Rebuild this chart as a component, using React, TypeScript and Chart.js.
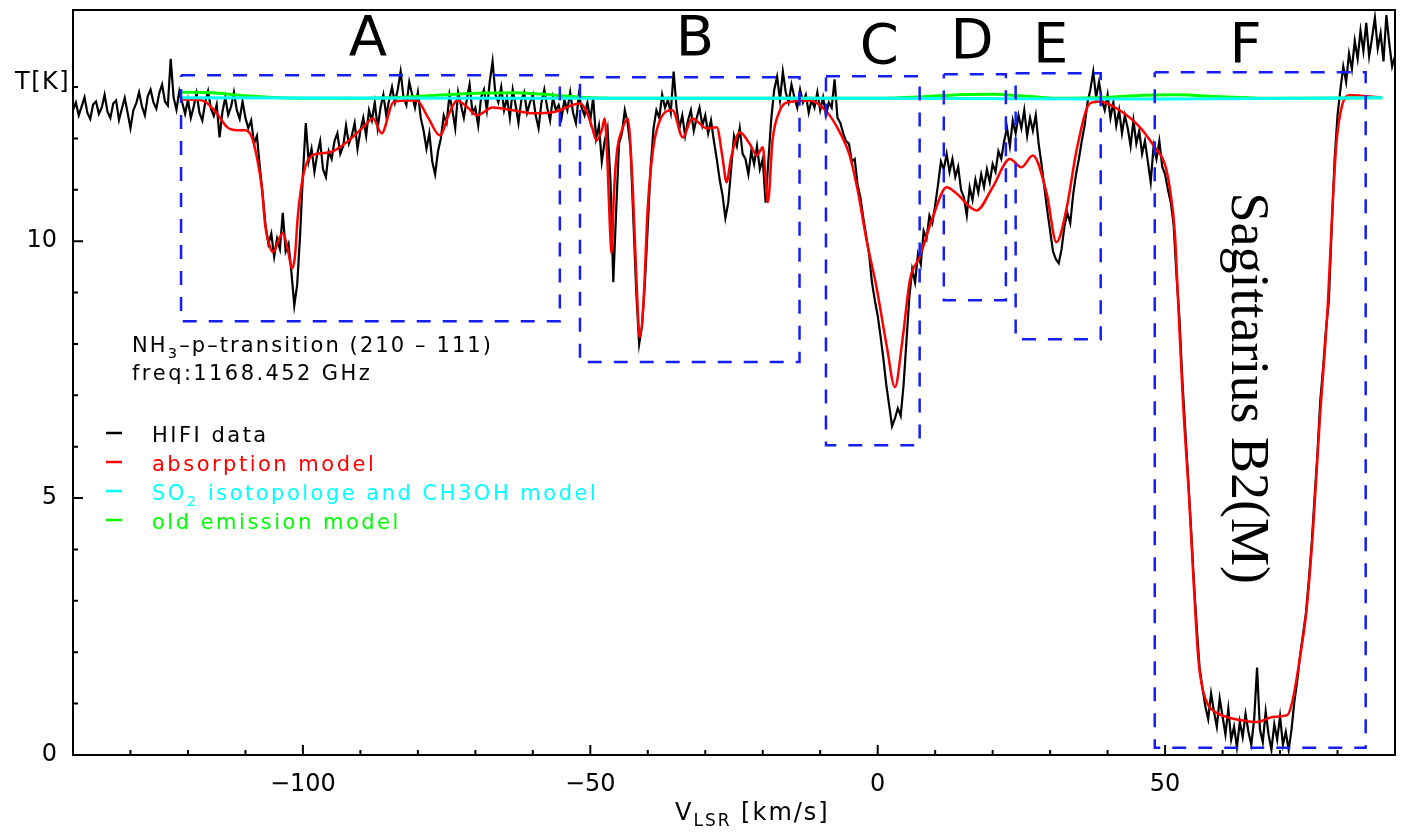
import React, { useEffect, useRef } from 'react';
import { Chart, registerables } from 'chart.js';

Chart.register(...registerables);

const SANS = '"DejaVu Sans", "Liberation Sans", sans-serif';
const SERIF = '"Liberation Serif", "DejaVu Serif", serif';

// ---------------------------------------------------------------------------
// HIFI spectrum of NH3 (para, 2_10 - 1_11) towards Sgr B2(M)
// channels start at -140 km/s, 0.5 km/s apart
// ---------------------------------------------------------------------------
const CHANNEL_V0 = -140;
const CHANNEL_DV = 0.5;

const hifiT = [
  12.55, 12.70, 12.45, 12.62, 12.80, 12.50, 12.38, 12.66, 12.72, 12.48, // -140
  12.60, 12.85, 12.52, 12.40, 12.68, 12.74, 12.36, 12.58, 12.79, 12.50, // -135
  12.20, 12.55, 12.68, 12.90, 12.62, 12.45, 12.82, 12.95, 12.70, 12.58, // -130
  12.88, 13.05, 12.72, 12.64, 13.55, 12.80, 12.56, 12.92, 12.70, 12.48, // -125
  12.75, 12.40, 12.62, 12.88, 12.50, 12.35, 12.70, 12.92, 12.58, 12.44, // -120
  12.66, 12.02, 12.52, 12.80, 12.46, 12.62, 12.90, 12.55, 12.38, 12.72, // -115
  12.40, 12.20, 12.35, 11.90, 12.05, 11.45, 10.90, 10.30, 9.95, 10.15,  // -110
  9.70, 10.05, 9.85, 10.55, 9.80, 9.95, 9.40, 8.75, 9.15, 10.10,        // -105
  11.30, 12.30, 11.55, 11.80, 11.35, 11.70, 11.95, 11.40, 11.25, 11.75, // -100
  11.60, 11.95, 12.10, 11.70, 11.85, 12.25, 11.90, 12.05, 12.30, 11.80, // -95
  12.15, 12.40, 12.05, 12.55, 12.35, 12.70, 12.20, 12.60, 12.85, 12.45, // -90
  12.75, 13.00, 12.70, 12.95, 13.30, 12.80, 12.65, 13.10, 12.85, 12.60, // -85
  12.90, 12.40, 12.15, 11.80, 12.10, 11.55, 11.30, 11.75, 12.00, 12.45, // -80
  12.30, 12.85, 12.55, 12.20, 12.90, 12.65, 12.40, 12.75, 13.05, 12.50, // -75
  12.60, 12.25, 12.80, 12.95, 12.55, 13.10, 13.50, 12.85, 12.70, 13.00, // -70
  12.55, 12.80, 12.40, 12.95, 12.65, 12.30, 12.75, 12.90, 12.50, 12.70, // -65
  12.85, 12.45, 12.20, 12.70, 12.95, 12.60, 12.35, 12.80, 12.55, 12.65, // -60
  12.40, 12.75, 12.55, 12.90, 12.50, 12.30, 12.85, 12.60, 12.45, 12.70, // -55
  12.35, 12.80, 12.00, 12.25, 11.55, 11.95, 12.20, 11.20, 9.20, 10.60,  // -50
  11.90, 12.10, 12.55, 12.30, 11.80, 10.40, 9.00, 8.00, 8.35, 9.20,     // -45
  10.30, 11.45, 12.20, 12.55, 12.40, 12.85, 12.60, 12.75, 12.50, 13.30, // -40
  12.60, 12.20, 12.45, 12.05, 12.35, 12.55, 12.15, 12.40, 12.60, 12.25, // -35
  12.45, 12.10, 12.35, 11.95, 11.60, 11.20, 10.90, 10.45, 10.75, 11.40, // -30
  12.05, 11.85, 12.20, 11.70, 11.60, 11.30, 11.75, 11.50, 11.85, 11.40, // -25
  11.60, 10.75, 11.60, 12.40, 12.95, 13.20, 12.75, 13.30, 12.90, 12.70, // -20
  13.05, 12.80, 12.60, 12.95, 12.70, 12.85, 12.50, 12.75, 12.60, 12.90, // -15
  12.55, 12.80, 12.45, 12.70, 12.60, 13.15, 12.40, 12.30, 12.10, 11.95, // -10
  11.90, 11.55, 11.60, 11.10, 10.85, 10.45, 10.10, 9.75, 9.20, 8.85,    // -5
  8.55, 8.15, 7.70, 7.20, 6.80, 6.40, 6.55, 6.75, 6.60, 7.20,           // 0
  8.05, 8.90, 9.45, 9.20, 9.75, 9.55, 10.20, 10.05, 10.50, 10.35,       // 5
  10.70, 11.10, 11.55, 11.40, 11.70, 11.35, 11.60, 11.25, 11.45, 11.00, // 10
  10.85, 10.50, 11.05, 10.80, 11.20, 10.95, 11.30, 11.05, 11.40, 11.15, // 15
  11.50, 11.35, 11.75, 11.60, 11.95, 12.20, 11.85, 12.35, 12.10, 12.45, // 20
  12.20, 12.55, 12.05, 12.40, 12.15, 12.45, 11.90, 11.50, 11.05, 10.60, // 25
  10.20, 9.80, 9.65, 9.57, 9.85, 10.30, 10.55, 10.35, 10.90, 11.30,     // 30
  11.60, 11.95, 12.25, 12.70, 12.95, 13.30, 12.80, 13.10, 12.75, 12.55, // 35
  12.85, 12.40, 12.70, 12.25, 12.55, 12.10, 12.45, 12.20, 11.85, 12.35, // 40
  11.90, 12.15, 11.70, 11.95, 11.55, 11.15, 11.85, 11.60, 11.95, 11.45, // 45
  11.30, 11.00, 10.75, 10.30, 9.30, 8.50, 7.30, 6.35, 5.40, 4.45,       // 50
  3.40, 2.50, 1.70, 1.30, 0.95, 0.70, 1.20, 0.85, 0.55, 1.10,           // 55
  0.75, 0.40, 0.90, 0.30, 0.55, 0.15, 0.65, 0.35, 0.80, 0.45,           // 60
  0.20, 0.70, 1.70, 0.50, 0.25, 0.85, 0.40, 0.10, 0.60, 0.30,           // 65
  0.75, 0.20, 0.45, 0.10, 0.50, 1.05, 1.45, 1.95, 2.35, 2.75,           // 70
  3.40, 4.10, 5.00, 5.85, 6.90, 7.55, 8.30, 8.85, 10.30, 11.60,         // 75
  12.45, 12.95, 13.40, 13.10, 13.65, 13.35, 13.90, 13.55, 14.10, 13.70, // 80
  14.25, 13.60, 13.95, 14.35, 13.75, 14.05, 13.50, 14.40, 13.85, 13.40, // 85
  13.60,                                                                // 90
];

// absorption model (velocity km/s, T K)
const absorptionV = [
  -121.0, -117.5, -115.0, -113.2, -111.5, -110.1, -108.9, -108.0, -107.1, -106.6,
  -105.7, -105.2, -104.0, -103.5, -102.6, -101.9, -101.4, -100.9, -100.0, -99.1,
  -97.0, -95.3, -92.7, -89.5, -87.8, -86.3, -84.3, -82.0, -80.2, -78.2,
  -76.2, -74.5, -73.2, -71.5, -69.7, -67.0, -63.5, -60.0, -56.5, -51.8,
  -50.6, -49.7, -48.9, -48.0, -47.5, -47.0, -46.6, -46.3, -45.9, -45.4,
  -44.5, -43.5, -42.6, -41.9, -41.4, -40.8, -40.0, -39.1, -37.9, -35.7,
  -33.9, -32.3, -29.7, -28.0, -27.0, -26.3, -25.5, -24.0, -22.3, -21.0,
  -20.0, -19.1, -18.3, -17.0, -15.8, -11.8, -8.8, -6.5, -4.9, -3.5,
  -1.9, -0.2, 1.6, 3.0, 4.3, 5.6, 7.3, 9.6, 12.0, 13.7,
  17.2, 20.0, 23.0, 25.0, 27.0, 29.4, 31.1, 32.9, 34.6, 36.9,
  38.6, 42.1, 45.6, 48.2, 49.9, 50.8, 51.7, 52.2, 53.1, 54.2,
  54.9, 55.8, 56.6, 57.5, 59.0, 63.0, 65.9, 68.7, 71.3, 72.2,
  73.4, 74.6, 75.7, 76.9, 78.3, 79.1, 79.8, 80.7, 82.1, 87.3,
];
const absorptionT = [
  12.76, 12.74, 12.49, 12.22, 12.16, 12.16, 12.03, 11.63, 11.00, 10.35,
  9.88, 9.79, 10.08, 10.16, 9.82, 9.47, 9.69, 10.47, 11.25, 11.58,
  11.71, 11.73, 11.90, 12.22, 12.39, 12.10, 12.70, 12.74, 12.74, 12.40,
  12.06, 12.50, 12.74, 12.62, 12.45, 12.60, 12.55, 12.49, 12.51, 12.68,
  12.51, 12.22, 11.96, 12.16, 12.39, 11.50, 10.30, 9.77, 10.90, 11.71,
  12.16, 12.39, 11.00, 9.05, 8.13, 8.70, 10.66, 11.77, 12.35, 12.55,
  12.02, 12.39, 12.20, 12.22, 11.63, 11.15, 11.63, 12.12, 11.90, 11.67,
  11.83, 10.76, 11.96, 12.55, 12.70, 12.74, 12.51, 12.10, 11.68, 11.00,
  10.00, 9.10, 7.94, 7.16, 8.07, 9.24, 9.69, 10.47, 11.05, 10.93,
  10.60, 11.05, 11.60, 11.44, 11.67, 10.93, 9.98, 10.66, 11.77, 12.68,
  12.72, 12.55, 12.22, 11.83, 11.52, 11.05, 10.16, 8.99, 6.90, 4.96,
  3.50, 1.85, 1.25, 0.97, 0.82, 0.68, 0.64, 0.74, 0.78, 1.07,
  1.85, 2.82, 4.32, 6.50, 8.75, 10.60, 11.90, 12.60, 12.84, 12.80,
];

// SO2 isotopologue + CH3OH model
const so2V = [-121, -60, 0, 50, 87.8];
const so2T = [12.79, 12.78, 12.78, 12.77, 12.79];

// old emission model
const emissionV = [
  -121, -116, -110, -104, -95, -85, -78, -70, -63, -56, -50, -40, -20,
  0, 8, 14, 20, 26, 32, 40, 46, 52, 60, 70, 87.8,
];
const emissionT = [
  12.90, 12.89, 12.83, 12.79, 12.78, 12.79, 12.83, 12.88, 12.89, 12.84, 12.79, 12.78, 12.78,
  12.78, 12.81, 12.85, 12.86, 12.82, 12.78, 12.80, 12.84, 12.85, 12.81, 12.78, 12.79,
];

// velocity windows of the absorption components
const regionNames = ['A', 'B', 'C', 'D', 'E', 'F'];
const regionVMin = [-121.2, -51.8, -9.0, 11.5, 24.0, 48.2];
const regionVMax = [-55.3, -13.6, 7.3, 22.3, 38.8, 84.9];
const regionTMin = [8.44, 7.65, 6.03, 8.85, 8.09, 0.14];
const regionTMax = [13.23, 13.19, 13.21, 13.25, 13.27, 13.29];
const regionLabelV = [-88.7, -31.8, 0.3, 16.4, 30.1, 64.0];
const regionLabelT = [13.62, 13.62, 13.46, 13.56, 13.48, 13.48];

// axes
const X_MIN = -140;
const X_MAX = 90;
const Y_MIN = 0;
const Y_MAX = 14.5;
const xMajorTicks = [-100, -50, 0, 50];
const yMajorTicks = [0, 5, 10];

const transitionText = 'NH_{3}\u2013p\u2013transition (210 \u2013 111)';
const freqText = 'freq:1168.452 GHz';
const sourceName = 'Sagittarius B2(M)';
const sourceLabelV = 61.7;
const sourceLabelT = 7.14;

// ---------------------------------------------------------------------------
// text helpers (wide, evenly spaced lettering; _{..} marks a subscript)
// ---------------------------------------------------------------------------
type Part = { t: string; sub: boolean };

function parseRich(text: string): Part[] {
  const parts: Part[] = [];
  const re = /_\{([^}]*)\}/g;
  let last = 0;
  let m: RegExpExecArray | null;
  while ((m = re.exec(text))) {
    if (m.index > last) parts.push({ t: text.slice(last, m.index), sub: false });
    parts.push({ t: m[1], sub: true });
    last = re.lastIndex;
  }
  if (last < text.length) parts.push({ t: text.slice(last), sub: false });
  return parts;
}

function richText(
  ctx: CanvasRenderingContext2D,
  text: string,
  x: number,
  y: number,
  size: number,
  color: string,
  spacing: number,
  subSize = size * 0.7,
  subDrop = size * 0.3,
) {
  ctx.fillStyle = color;
  ctx.textAlign = 'left';
  ctx.textBaseline = 'alphabetic';
  let cx = x;
  for (const p of parseRich(text)) {
    ctx.font = `${p.sub ? subSize : size}px ${SANS}`;
    for (const ch of p.t) {
      ctx.fillText(ch, cx, p.sub ? y + subDrop : y);
      cx += ctx.measureText(ch).width + spacing;
    }
  }
  return cx - x;
}

const decorations = {
  id: 'decorations',
  afterDatasetsDraw(chart: any) {
    const { ctx, chartArea: a, scales } = chart;
    const xs = scales.x;
    const ys = scales.y;
    ctx.save();

    // frame + inward tick marks
    ctx.strokeStyle = '#000';
    ctx.lineWidth = 2;
    ctx.strokeRect(a.left, a.top, a.right - a.left, a.bottom - a.top);
    ctx.beginPath();
    for (const t of ys.ticks) {
      if (!Number.isInteger(t.value)) continue;
      const p = ys.getPixelForValue(t.value);
      const len = yMajorTicks.includes(t.value) ? 10 : 5;
      ctx.moveTo(a.left, p);
      ctx.lineTo(a.left + len, p);
    }
    for (const t of xs.ticks) {
      const p = xs.getPixelForValue(t.value);
      if (p <= a.left + 1 || p >= a.right - 1) continue;
      const len = xMajorTicks.includes(t.value) ? 10 : 5;
      ctx.moveTo(p, a.bottom);
      ctx.lineTo(p, a.bottom - len);
    }
    ctx.stroke();

    // component letters
    ctx.fillStyle = '#000';
    ctx.font = `56px ${SANS}`;
    ctx.textAlign = 'center';
    ctx.textBaseline = 'alphabetic';
    regionNames.forEach((n, i) => {
      ctx.fillText(n, xs.getPixelForValue(regionLabelV[i]), ys.getPixelForValue(regionLabelT[i]));
    });

    // source name, running downwards
    ctx.save();
    ctx.translate(xs.getPixelForValue(sourceLabelV), ys.getPixelForValue(sourceLabelT));
    ctx.rotate(Math.PI / 2);
    ctx.font = `54px ${SERIF}`;
    ctx.textAlign = 'center';
    ctx.fillText(sourceName, 0, 0);
    ctx.restore();

    // transition + frequency
    const tx = a.left + 59;
    richText(ctx, transitionText, tx, a.top + 342, 21, '#000', 2.1);
    richText(ctx, freqText, tx, a.top + 370, 21, '#000', 2.4);

    // legend
    const entries = chart.data.datasets.filter((d: any) => d.label);
    entries.forEach((d: any, i: number) => {
      const by = a.top + 432 + i * 29;
      ctx.strokeStyle = d.borderColor;
      ctx.lineWidth = 2.5;
      ctx.beginPath();
      ctx.moveTo(a.left + 33, by - 9);
      ctx.lineTo(a.left + 49, by - 9);
      ctx.stroke();
      richText(ctx, d.label, a.left + 79, by, 21, d.borderColor, 2.5);
    });

    // axis titles
    richText(ctx, 'T[K]', 15, a.top + 79, 24, '#000', 1.5);
    richText(ctx, 'V_{LSR} [km/s]', 675, a.bottom + 65, 24, '#000', 2, 17, 6);

    ctx.restore();
  },
};

const fmtTick = (v: number) => (v < 0 ? '\u2212' + Math.abs(v) : String(v));

export default function App() {
  const ref = useRef<HTMLCanvasElement>(null);

  useEffect(() => {
    const hifiPoints = hifiT.map((t, i) => ({ x: CHANNEL_V0 + i * CHANNEL_DV, y: t }));
    const absorptionPoints = absorptionV.map((v, i) => ({ x: v, y: absorptionT[i] }));
    const so2Points = so2V.map((v, i) => ({ x: v, y: so2T[i] }));
    const emissionPoints = emissionV.map((v, i) => ({ x: v, y: emissionT[i] }));

    const boxes = regionNames.map((_, i) => ({
      label: '',
      data: [
        { x: regionVMin[i], y: regionTMax[i] },
        { x: regionVMax[i], y: regionTMax[i] },
        { x: regionVMax[i], y: regionTMin[i] },
        { x: regionVMin[i], y: regionTMin[i] },
        { x: regionVMin[i], y: regionTMax[i] },
      ],
      borderColor: 'rgb(20,30,245)',
      borderWidth: 2.5,
      borderDash: [14, 12],
      pointRadius: 0,
      tension: 0,
      order: 1,
    }));

    const chart = new Chart(ref.current as HTMLCanvasElement, {
      type: 'line',
      data: {
        datasets: [
          {
            label: 'HIFI data',
            data: hifiPoints,
            borderColor: '#000000',
            borderWidth: 2.2,
            pointRadius: 0,
            tension: 0,
            order: 5,
          },
          {
            label: 'absorption model',
            data: absorptionPoints,
            borderColor: '#ff0000',
            borderWidth: 2.5,
            pointRadius: 0,
            cubicInterpolationMode: 'monotone',
            order: 4,
          },
          {
            label: 'SO_{2} isotopologe and CH3OH model',
            data: so2Points,
            borderColor: '#00ffff',
            borderWidth: 3,
            pointRadius: 0,
            cubicInterpolationMode: 'monotone',
            order: 2,
          },
          {
            label: 'old emission model',
            data: emissionPoints,
            borderColor: '#00ff00',
            borderWidth: 3,
            pointRadius: 0,
            cubicInterpolationMode: 'monotone',
            order: 3,
          },
          ...boxes,
        ] as any,
      },
      options: {
        responsive: false,
        animation: false,
        events: [],
        layout: { padding: { left: 0, right: 10, top: 10, bottom: 0 } },
        plugins: {
          legend: { display: false },
          tooltip: { enabled: false },
          title: { display: false },
        },
        scales: {
          x: {
            type: 'linear',
            min: X_MIN,
            max: X_MAX,
            grid: { display: false, drawTicks: false },
            border: { display: false },
            ticks: {
              stepSize: 10,
              autoSkip: false,
              maxRotation: 0,
              padding: 15,
              color: '#000',
              font: { family: SANS, size: 24 },
              callback: (v: any) => (xMajorTicks.includes(Number(v)) ? fmtTick(Number(v)) : ''),
            },
            afterFit: (s: any) => {
              s.height = 77;
              s.paddingLeft = 0;
              s.paddingRight = 0;
            },
          },
          y: {
            type: 'linear',
            min: Y_MIN,
            max: Y_MAX,
            grid: { display: false, drawTicks: false },
            border: { display: false },
            ticks: {
              stepSize: 1,
              autoSkip: false,
              padding: 16,
              color: '#000',
              font: { family: SANS, size: 24 },
              callback: (v: any) => (yMajorTicks.includes(Number(v)) ? String(v) : ''),
            },
            afterFit: (s: any) => {
              s.width = 73;
              s.paddingTop = 0;
              s.paddingBottom = 0;
            },
          },
        },
      } as any,
      plugins: [decorations],
    });

    return () => chart.destroy();
  }, []);

  return (
    <div style={{ position: 'absolute', left: 0, top: 0, width: 1405, height: 832, background: '#ffffff' }}>
      <canvas ref={ref} width={1405} height={832} style={{ display: 'block' }} />
    </div>
  );
}
